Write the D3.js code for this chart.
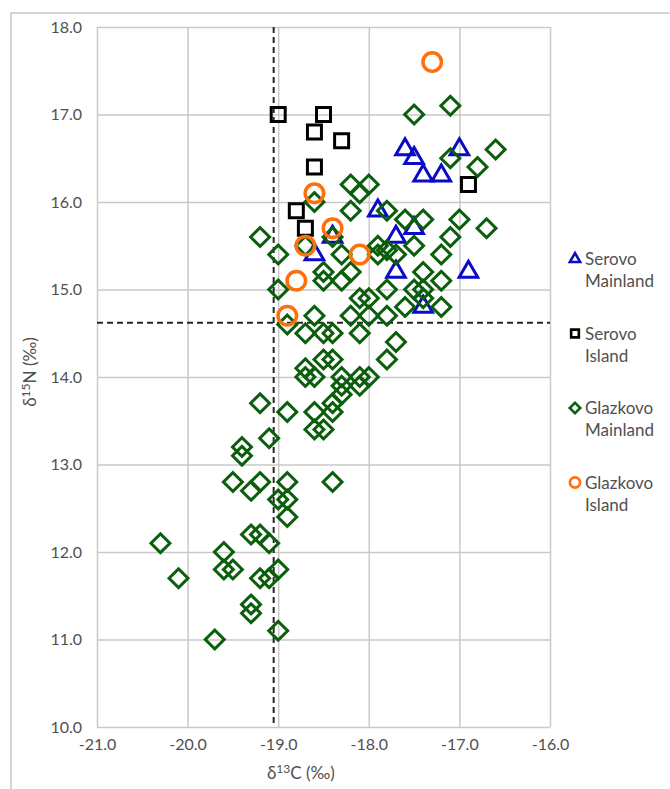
<!DOCTYPE html>
<html>
<head>
<meta charset="utf-8">
<script src="https://cdn.jsdelivr.net/npm/d3@7"></script>
<style>
  body { margin: 0; background: #fff; }
  text { font-family: Lato, "Open Sans", sans-serif; fill: #505050; }
</style>
</head>
<body>
<div id="chart"></div>
<script>
// data: [d13C, d15N]
const serovoMainland = [
  [-17.6, 16.6], [-17.5, 16.5], [-17.4, 16.3], [-17.2, 16.3], [-17.0, 16.6],
  [-17.9, 15.9], [-17.7, 15.6], [-17.5, 15.7], [-17.7, 15.2], [-16.9, 15.2],
  [-17.4, 14.8], [-18.4, 15.6], [-18.6, 15.4]
];
const serovoIsland = [
  [-19.0, 17.0], [-18.5, 17.0], [-18.6, 16.8], [-18.3, 16.7], [-18.6, 16.4],
  [-18.8, 15.9], [-18.7, 15.7], [-16.9, 16.2]
];
const glazkovoMainland = [
  [-17.5, 17.0], [-17.1, 17.1], [-16.6, 16.6], [-16.8, 16.4], [-17.1, 16.5],
  [-18.2, 16.2], [-18.0, 16.2], [-18.1, 16.1], [-18.2, 15.9], [-17.8, 15.9],
  [-17.6, 15.8], [-17.4, 15.8], [-17.0, 15.8], [-16.7, 15.7], [-17.1, 15.6],
  [-17.5, 15.5], [-17.2, 15.4], [-18.6, 16.0], [-19.2, 15.6], [-18.4, 15.6],
  [-19.0, 15.4], [-18.7, 15.5], [-18.3, 15.4], [-17.9, 15.5], [-17.8, 15.45],
  [-17.7, 15.4], [-17.9, 15.4], [-18.5, 15.2], [-18.5, 15.1], [-18.3, 15.1],
  [-18.2, 15.2], [-19.0, 15.0], [-17.8, 15.0], [-17.5, 15.0], [-17.4, 15.0],
  [-17.4, 15.2], [-17.2, 15.1], [-18.1, 14.9], [-18.0, 14.9], [-18.2, 14.7],
  [-18.0, 14.7], [-17.8, 14.7], [-17.6, 14.8], [-17.4, 14.9], [-17.2, 14.8],
  [-18.6, 14.7], [-18.9, 14.6], [-18.7, 14.5], [-18.5, 14.5], [-18.4, 14.5],
  [-18.1, 14.5], [-17.7, 14.4], [-17.8, 14.2], [-18.5, 14.2], [-18.4, 14.2],
  [-18.7, 14.1], [-18.7, 14.0], [-18.6, 14.0], [-18.3, 14.0], [-18.1, 14.0],
  [-18.0, 14.0], [-18.3, 13.9], [-18.1, 13.9], [-18.3, 13.8], [-18.4, 13.7],
  [-18.4, 13.6], [-18.6, 13.6], [-18.9, 13.6], [-18.6, 13.4], [-18.5, 13.4],
  [-19.2, 13.7], [-19.1, 13.3], [-19.4, 13.2], [-19.4, 13.1], [-19.5, 12.8],
  [-19.2, 12.8], [-19.3, 12.7], [-18.9, 12.8], [-18.4, 12.8], [-19.0, 12.6],
  [-18.9, 12.6], [-18.9, 12.4], [-19.3, 12.2], [-19.2, 12.2], [-19.1, 12.1],
  [-20.3, 12.1], [-19.6, 12.0], [-19.6, 11.8], [-19.5, 11.8], [-20.1, 11.7],
  [-19.2, 11.7], [-19.1, 11.7], [-19.0, 11.8], [-19.3, 11.4], [-19.3, 11.3],
  [-19.0, 11.1], [-19.7, 11.0]
];
const glazkovoIsland = [
  [-17.3, 17.6], [-18.6, 16.1], [-18.4, 15.7], [-18.7, 15.5], [-18.1, 15.4],
  [-18.8, 15.1], [-18.9, 14.7]
];
const xTicks = [-21, -20, -19, -18, -17, -16];
const yTicks = [10, 11, 12, 13, 14, 15, 16, 17, 18];
const cutC = -19.05;
const cutN = 14.62;

const series = [
  { name: ['Serovo', 'Mainland'], data: serovoMainland, type: 'triangle', color: '#0a0ac8' },
  { name: ['Serovo', 'Island'], data: serovoIsland, type: 'square', color: '#000000' },
  { name: ['Glazkovo', 'Mainland'], data: glazkovoMainland, type: 'diamond', color: '#0b5e0b' },
  { name: ['Glazkovo', 'Island'], data: glazkovoIsland, type: 'circle', color: '#ff6f0a' }
];

const W = 670, H = 789;
const margin = { top: 27, left: 97 };
const width = 453, height = 700;

const svg = d3.select('#chart').append('svg')
  .attr('width', W).attr('height', H);

// chart area frame
svg.append('rect')
  .attr('x', 11).attr('y', 13)
  .attr('width', 700).attr('height', 800)
  .attr('fill', 'none').attr('stroke', '#c8c8c8').attr('stroke-width', 1.5);

const g = svg.append('g').attr('transform', `translate(${margin.left},${margin.top})`);

const x = d3.scaleLinear().domain([-21, -16]).range([0, width]);
const y = d3.scaleLinear().domain([10, 18]).range([height, 0]);

const fmt = d => d.toFixed(1);

// grid + axes
const gy = g.append('g')
  .call(d3.axisLeft(y).tickValues(yTicks).tickFormat(fmt).tickSize(-width).tickPadding(15));
const gx = g.append('g')
  .attr('transform', `translate(0,${height})`)
  .call(d3.axisBottom(x).tickValues(xTicks).tickFormat(fmt).tickSize(-height).tickPadding(12));
[gx, gy].forEach(a => {
  a.select('.domain').remove();
  a.selectAll('line').attr('stroke', '#c9c9c9').attr('stroke-width', 1.5);
  a.selectAll('text').style('font-size', '16px').attr('fill', '#505050');
});

// cut-off lines
g.append('line')
  .attr('x1', x(cutC)).attr('x2', x(cutC))
  .attr('y1', y(18)).attr('y2', y(10))
  .attr('stroke', '#262626').attr('stroke-width', 2).attr('stroke-dasharray', '6,4');
g.append('line')
  .attr('x1', x(-21)).attr('x2', x(-16))
  .attr('y1', y(cutN)).attr('y2', y(cutN))
  .attr('stroke', '#262626').attr('stroke-width', 2).attr('stroke-dasharray', '6,4');

function symbolPath(type, scale) {
  if (type === 'triangle') return d3.symbol(d3.symbolTriangle, 150 * scale * scale)();
  if (type === 'square') return d3.symbol(d3.symbolSquare, 196 * scale * scale)();
  if (type === 'diamond') return d3.symbol(d3.symbolSquare, 180 * scale * scale)();
  return d3.symbol(d3.symbolCircle, 270 * scale * scale)();
}

// points
series.forEach(s => {
  g.append('g').selectAll('path')
    .data(s.data)
    .enter()
    .append('path')
    .attr('d', symbolPath(s.type, 1))
    .attr('transform', d => `translate(${x(d[0])},${y(d[1])})` + (s.type === 'diamond' ? ' rotate(45)' : ''))
    .attr('fill', 'none')
    .attr('stroke', s.color)
    .attr('stroke-width', s.type === 'circle' ? 3.5 : 3);
});

// axis titles
const yt = svg.append('text')
  .attr('transform', 'translate(36,372) rotate(-90)')
  .attr('text-anchor', 'middle')
  .style('font-size', '17px');
yt.append('tspan').text('δ');
yt.append('tspan').text('15').attr('dy', -6).style('font-size', '12px');
yt.append('tspan').text('N (‰)').attr('dy', 6);

const xt = svg.append('text')
  .attr('x', margin.left + x(-18.75)).attr('y', 779)
  .attr('text-anchor', 'middle')
  .style('font-size', '17px');
xt.append('tspan').text('δ');
xt.append('tspan').text('13').attr('dy', -6).style('font-size', '12px');
xt.append('tspan').text('C (‰)').attr('dy', 6);

// legend
const legend = svg.append('g').attr('transform', 'translate(575,259)');
series.forEach((s, i) => {
  const item = legend.append('g').attr('transform', `translate(0,${i * 74.5})`);
  item.append('path')
    .attr('d', symbolPath(s.type, 0.55))
    .attr('transform', s.type === 'diamond' ? 'rotate(45)' : null)
    .attr('fill', 'none')
    .attr('stroke', s.color)
    .attr('stroke-width', 2.6);
  s.name.forEach((line, j) => {
    item.append('text')
      .attr('x', 10).attr('y', 6 + j * 22)
      .text(line)
      .style('font-size', '17px');
  });
});
</script>
</body>
</html>
